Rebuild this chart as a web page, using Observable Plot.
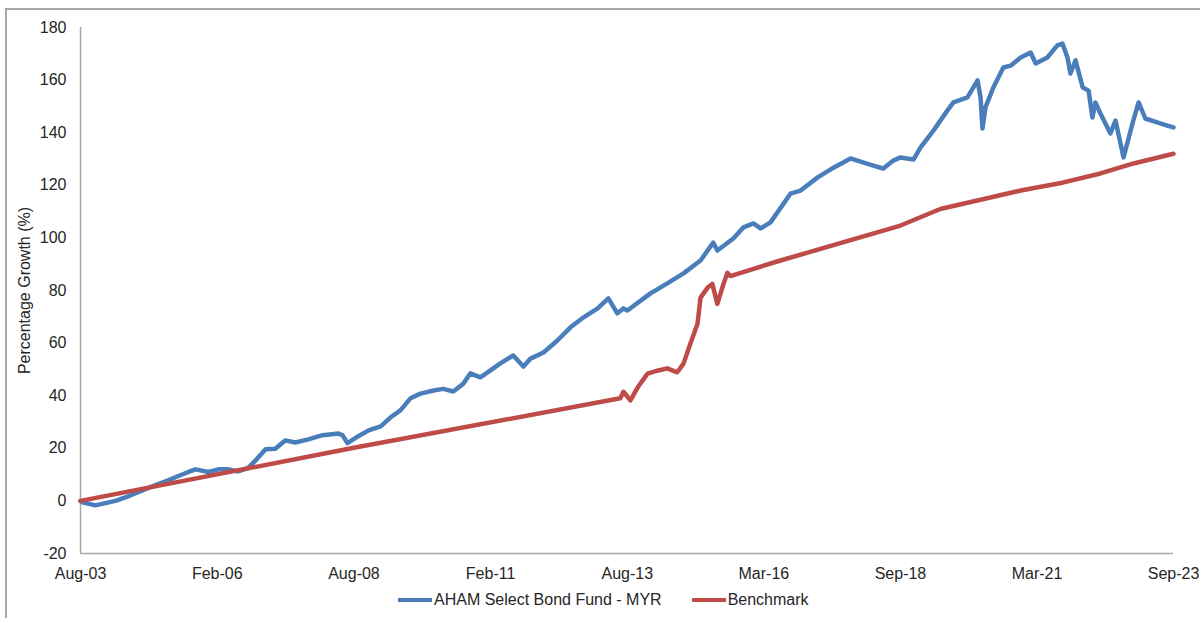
<!DOCTYPE html>
<html><head><meta charset="utf-8">
<script src="https://cdn.jsdelivr.net/npm/d3@7"></script>
<script src="https://cdn.jsdelivr.net/npm/@observablehq/plot@0.6"></script>
<style>
body{margin:0;background:#fff;font-family:"Liberation Sans",Arial,sans-serif;}
#wrap{position:relative;width:1200px;height:618px;overflow:hidden;background:#fff;}
#frame{position:absolute;left:5px;top:8px;width:1200px;height:620px;border-top:2px solid #a6a6a6;border-left:2px solid #a6a6a6;}
#chart{position:absolute;left:0;top:0;}
#legend{position:absolute;left:398px;top:591px;display:flex;align-items:center;font-size:16px;color:#262626;}
.item{display:flex;align-items:center;margin-right:30px;}
.sw{width:34px;height:4px;margin-right:2px;}
</style>
</head><body>
<div id="wrap"><div id="frame"></div><div id="chart"></div><div id="legend"></div></div>
<script>
const seriesNames = ["AHAM Select Bond Fund - MYR", "Benchmark"];
const seriesColors = ["#4a7ebb", "#be4b48"];
const xStart = "2003-08-15";
const xEnd = "2023-09-09";
const yTicks = [-20, 0, 20, 40, 60, 80, 100, 120, 140, 160, 180];
const tickDates = ["2003-08-15","2006-02-17","2008-08-22","2011-02-24","2013-08-29","2016-03-02","2018-09-04","2021-03-08","2023-09-09"];
const tickLabels = ["Aug-03","Feb-06","Aug-08","Feb-11","Aug-13","Mar-16","Sep-18","Mar-21","Sep-23"];

const fundDates = ["2003-08-15","2003-08-27","2003-11-23","2004-04-05","2004-06-11","2004-10-03","2004-12-30","2005-03-25","2005-05-12","2005-08-08",
"2005-09-24","2005-12-20","2006-02-26","2006-05-02","2006-07-08","2006-09-14","2006-11-01","2007-01-07","2007-03-13","2007-05-19",
"2007-07-25","2007-10-21","2008-01-24","2008-05-09","2008-06-06","2008-07-09","2008-09-02","2008-11-28","2009-02-17","2009-04-23",
"2009-06-29","2009-09-05","2009-11-11","2010-02-07","2010-04-13","2010-06-19","2010-08-26","2010-10-12","2010-12-18","2011-03-14",
"2011-04-30","2011-07-26","2011-10-02","2011-11-19","2012-02-14","2012-05-17","2012-08-13","2012-11-09","2013-02-11","2013-04-24",
"2013-06-23","2013-08-03","2013-08-30","2013-10-09","2014-02-01","2014-05-24","2014-09-10","2015-01-02","2015-03-28","2015-04-25",
"2015-08-10","2015-10-17","2015-12-23","2016-02-09","2016-04-15","2016-06-01","2016-08-27","2016-11-03","2017-02-26","2017-06-12",
"2017-10-04","2017-12-10","2018-03-06","2018-05-12","2018-07-18","2018-09-04","2018-11-30","2019-01-17","2019-04-13","2019-07-15",
"2019-08-25","2019-11-27","2020-02-03","2020-02-23","2020-03-07","2020-03-27","2020-05-19","2020-07-25","2020-09-12","2020-11-18",
"2021-01-24","2021-02-27","2021-05-16","2021-07-22","2021-08-25","2021-09-28","2021-10-18","2021-11-21","2022-01-08","2022-02-17",
"2022-03-14","2022-04-03","2022-05-07","2022-07-13","2022-08-16","2022-10-09","2022-12-08","2023-01-18","2023-03-04","2023-05-23",
"2023-07-29","2023-09-09"];
const fundValues = [0,-0.5,-1.7,0,1.3,4,6,7.8,9,11,
12,11,12,12,11.2,12.6,15.4,19.6,19.8,23,
22.2,23.4,25,25.6,25,22,24,26.8,28.3,31.7,
34.4,39,40.8,42,42.6,41.6,44.6,48.5,47,50.4,
52.3,55.3,51.1,54.1,56.4,61,66,69.8,73.2,77,
71.3,73.2,72.4,74.1,78.9,82.7,86.5,91.4,98.2,95.2,
99.8,104,105.5,103.6,105.9,109.7,116.8,118,123,126.7,
130.2,129,127.5,126.4,129.4,130.6,129.8,134.4,140.8,148.4,
151.5,153.4,159.9,153.4,141.6,149.6,157.2,164.8,165.5,168.6,
170.5,166.3,168.6,173.2,173.9,168.6,162.5,167.5,157.2,156,
145.8,151.5,147.3,139.7,144.6,130.6,143.5,151.5,145.4,143.9,
142.7,142];

const benchDates = ["2003-08-15","2008-08-22","2013-07-13","2013-08-03","2013-09-19","2013-11-06","2014-01-12","2014-03-18","2014-05-24","2014-07-30",
"2014-09-10","2014-10-26","2014-12-13","2015-01-02","2015-02-19","2015-03-22","2015-04-25","2015-06-05","2015-07-01","2015-07-21",
"2016-06-21","2018-09-04","2019-05-29","2020-02-23","2020-11-18","2021-08-25","2022-05-07","2022-12-15","2023-09-09"];
const benchValues = [0,20.2,39,41.5,38.2,43.1,48.4,49.5,50.4,48.9,
52.2,59.8,67.4,77.3,81.1,82.5,74.9,82.5,86.7,85.5,
91.4,104.7,111,114.5,118,121,124.5,128.3,132];

const fund = fundDates.map((d, i) => ({date: new Date(d), value: fundValues[i]}));
const bench = benchDates.map((d, i) => ({date: new Date(d), value: benchValues[i]}));
const labelMap = new Map(tickDates.map((d, i) => [new Date(d).getTime(), tickLabels[i]]));

const chart = Plot.plot({
  width: 1200, height: 590,
  marginTop: 27, marginBottom: 37, marginLeft: 80, marginRight: 27,
  style: {fontFamily: '"Liberation Sans", Arial, sans-serif', fontSize: "16px", color: "#262626", background: "transparent"},
  x: {type: "utc", domain: [new Date(xStart), new Date(xEnd)]},
  y: {domain: [-20, 180]},
  marks: [
    Plot.axisY({ticks: yTicks, tickFormat: d => String(d), tickSize: 0, tickPadding: 14, label: "Percentage Growth (%)", labelAnchor: "center", labelOffset: 62, labelArrow: "none", fontSize: 16}),
    Plot.axisX({ticks: tickDates.map(d => new Date(d)), tickFormat: d => labelMap.get(d.getTime()), tickSize: 0, tickPadding: 14, label: null, fontSize: 16}),
    Plot.ruleX([new Date(xStart)], {stroke: "#a6a6a6", strokeWidth: 1.5}),
    Plot.ruleY([-20], {stroke: "#a6a6a6", strokeWidth: 1.5}),
    Plot.line(fund, {x: "date", y: "value", stroke: seriesColors[0], strokeWidth: 4.5}),
    Plot.line(bench, {x: "date", y: "value", stroke: seriesColors[1], strokeWidth: 4.5})
  ]
});
document.getElementById("chart").appendChild(chart);

const legend = document.getElementById("legend");
seriesNames.forEach((name, i) => {
  const item = document.createElement("div");
  item.className = "item";
  const sw = document.createElement("span");
  sw.className = "sw";
  sw.style.background = seriesColors[i];
  const t = document.createElement("span");
  t.textContent = name;
  item.appendChild(sw); item.appendChild(t);
  legend.appendChild(item);
});
</script>
</body></html>
